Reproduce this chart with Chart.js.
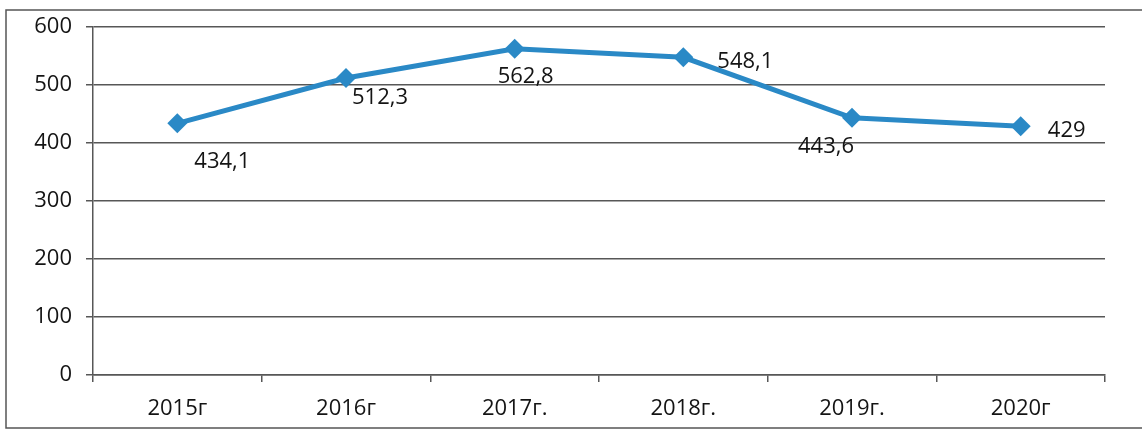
<!DOCTYPE html>
<html>
<head>
<meta charset="utf-8">
<script src="https://cdn.jsdelivr.net/npm/chart.js@4/dist/chart.umd.min.js"></script>
<style>
    html, body { margin: 0; padding: 0; background: #fff; }
    #wrap { width: 1142px; height: 434px; position: relative; }
</style>
</head>
<body>
<div id="wrap"><canvas id="chart"></canvas></div>
<script>
// Values
const years = ['2015г', '2016г', '2017г.', '2018г.', '2019г.', '2020г'];
const values = [434.1, 512.3, 562.8, 548.1, 443.6, 429];
const yTicks = [0, 100, 200, 300, 400, 500, 600];

const lineColor = '#2a89c6';
const gridColor = '#575757';
const textColor = '#141414';
const fontFamily = '"Open Sans", "Noto Sans", sans-serif';

// label offsets from each point (the original labels were placed by hand)
const labelShift = [[45, 38], [34, 20], [11, 28], [62, 4], [-26, 29], [46, 4]];

const pointLabels = {
    id: 'pointLabels',
    afterDatasetsDraw(chart) {
        const ctx = chart.ctx;
        const meta = chart.getDatasetMeta(0);
        ctx.save();
        ctx.font = '22px ' + fontFamily;
        ctx.fillStyle = textColor;
        ctx.textAlign = 'center';
        ctx.textBaseline = 'middle';
        meta.data.forEach((pt, i) => {
            const txt = String(values[i]).replace('.', ',');
            const [dx, dy] = labelShift[i];
            ctx.fillText(txt, pt.x + dx, pt.y + dy);
        });
        ctx.restore();
    }
};

const frame = {
    id: 'frame',
    afterDraw(chart) {
        const ctx = chart.ctx;
        ctx.save();
        ctx.strokeStyle = '#555';
        ctx.lineWidth = 1.5;
        ctx.strokeRect(6, 10, 1150, 418);
        ctx.restore();
    }
};

new Chart(document.getElementById('chart'), {
    type: 'line',
    data: {
        labels: years,
        datasets: [{
            data: values,
            borderColor: lineColor,
            backgroundColor: lineColor,
            borderWidth: 5,
            tension: 0,
            pointStyle: 'rectRot',
            pointRadius: 10,
            pointHoverRadius: 10,
            pointBorderWidth: 0
        }]
    },
    options: {
        responsive: true,
        maintainAspectRatio: false,
        animation: false,
        layout: { padding: { top: 26, right: 37, left: 0, bottom: 0 } },
        plugins: {
            legend: { display: false },
            tooltip: { enabled: false }
        },
        scales: {
            x: {
                offset: true,
                afterFit: s => { s.height = 59; },
                grid: {
                    offset: true,
                    drawOnChartArea: false,
                    drawTicks: true,
                    tickLength: 7,
                    color: gridColor,
                    lineWidth: 1.5
                },
                border: { display: true, color: gridColor, width: 1.5 },
                ticks: {
                    color: textColor,
                    font: { family: fontFamily, size: 22 },
                    padding: 14,
                    maxRotation: 0
                }
            },
            y: {
                min: 0,
                max: 600,
                afterFit: s => { s.width = 93; },
                afterBuildTicks: s => { s.ticks = yTicks.map(v => ({ value: v })); },
                grid: {
                    color: gridColor,
                    lineWidth: 1.5,
                    drawTicks: true,
                    tickLength: 7
                },
                border: { display: true, color: gridColor, width: 1.5 },
                ticks: {
                    color: textColor,
                    font: { family: fontFamily, size: 22 },
                    padding: 14
                }
            }
        }
    },
    plugins: [pointLabels, frame]
});
</script>
</body>
</html>
